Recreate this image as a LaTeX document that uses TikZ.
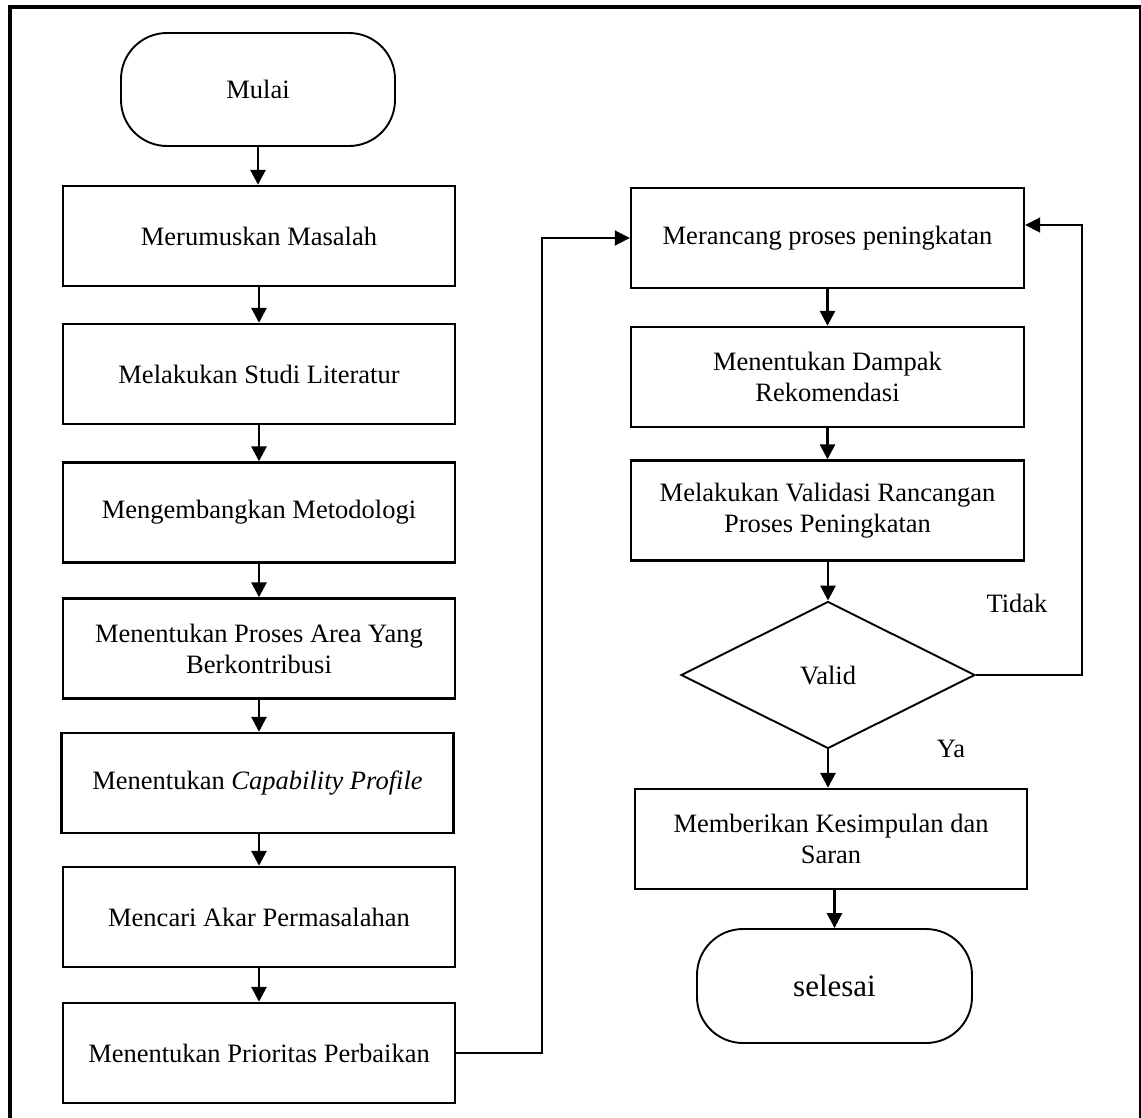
\documentclass[tikz,border=0pt]{standalone}
\usepackage{fontspec}
\setmainfont{Liberation Serif}
\usetikzlibrary{shapes.geometric,arrows.meta,calc}
\begin{document}
\begin{tikzpicture}[x=1pt,y=-1pt,
  font=\fontsize{26.5}{31}\selectfont,
  box/.style={draw, line width=2.4pt, minimum width=392pt, minimum height=100pt, inner sep=0pt, align=center},
  term/.style={draw, line width=1.9pt, rounded corners=46pt, minimum height=113pt, inner sep=0pt},
  decision/.style={diamond, draw, line width=1.9pt, aspect=2, minimum width=294pt, minimum height=147pt, inner sep=0pt},
  arr/.style={line width=2.8pt, -{Triangle[length=15pt,width=15pt]}},
  link/.style={line width=1.9pt, -{Triangle[length=15pt,width=15pt]}},
  lbl/.style={inner sep=0pt}
]
\useasboundingbox (0,0) rectangle (1141,1117);
% frame (open at bottom)
\draw[line width=4pt] (10,1130) -- (10,7) -- (1140.5,7) -- (1140.5,1130);

% left column
\node[term, minimum width=274pt] (start) at (258,89.5) {Mulai};
\node[box] (b1) at (259,236) {Merumuskan Masalah};
\node[box] (b2) at (259,374) {Melakukan Studi Literatur};
\node[box] (b3) at (259,512.5) {Mengembangkan Metodologi};
\node[box] (b4) at (259,648.5) {Menentukan Proses Area Yang\\Berkontribusi};
\node[box] (b5) at (257.5,783) {Menentukan \textit{Capability Profile}};
\node[box] (b6) at (259,917) {Mencari Akar Permasalahan};
\node[box] (b7) at (259,1053) {Menentukan Prioritas Perbaikan};

% right column
\node[box, minimum width=393pt] (m1) at (827.5,238) {Merancang proses peningkatan};
\node[box, minimum width=393pt] (m2) at (827.5,377) {Menentukan Dampak\\Rekomendasi};
\node[box, minimum width=393pt] (m3) at (827.5,510.5) {Melakukan Validasi Rancangan\\Proses Peningkatan};
\node[decision] (dia) at (828,675) {Valid};
\node[box] (m4) at (831,839) {Memberikan Kesimpulan dan\\Saran};
\node[term, minimum width=275pt, minimum height=114pt, font=\fontsize{31}{36}\selectfont] (stop) at (834.5,986) {selesai};

\node[lbl] (tidak) at (1017,603) {Tidak};
\node[lbl] (ya) at (951,749) {Ya};

% arrows left column
\draw[arr] (start.south) -- (start.south |- b1.north);
\draw[arr] (b1.south) -- (b2.north);
\draw[arr] (b2.south) -- (b3.north);
\draw[arr] (b3.south) -- (b4.north);
\draw[arr] (b4.south) -- (b4.south |- b5.north);
\draw[arr] (b5.south -| b6.north) -- (b6.north);
\draw[arr] (b6.south) -- (b7.north);

% connector to right column
\coordinate (jog) at (542,1053);
\draw[link] (b7.east) -- (jog) |- (m1.west);

% arrows right column
\draw[arr] (m1.south) -- (m2.north);
\draw[arr] (m2.south) -- (m3.north);
\draw[arr] (m3.south -| dia.north) -- (dia.north);
\draw[arr] (dia.south) -- (dia.south |- m4.north);
\draw[arr] (m4.south -| stop.north) -- (stop.north);

% feedback loop
\coordinate (fb) at (1082,675);
\draw[link] (dia.east) -- (fb) |- ([yshift=13pt]m1.east);
\end{tikzpicture}
\end{document}
